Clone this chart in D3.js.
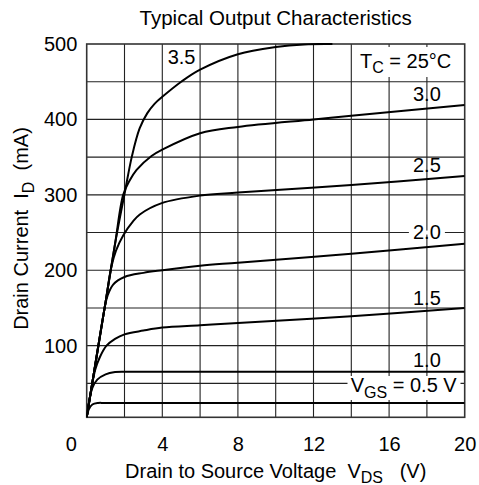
<!DOCTYPE html>
<html>
<head>
<meta charset="utf-8">
<script src="https://cdn.jsdelivr.net/npm/d3@7"></script>
<style>
  body { margin: 0; background: #fff; }
  text { font-family: "Liberation Sans", Arial, sans-serif; fill: #000; }
</style>
</head>
<body>
<svg id="chart" width="479" height="485"></svg>
<script>
// drain current (mA) vs drain-source voltage (V), one array per gate voltage
var vgs_labels = ['0.5', '1.0', '1.5', '2.0', '2.5', '3.0', '3.5'];

var curve_05 = [[0,5],[0.1,15],[0.3,22],[0.6,24],[1.0,24],[20,24]];
var curve_10 = [[0,5],[0.12,25],[0.3,44],[0.56,55],[1.0,62],[1.5,65],[2.0,65.5],[3.0,65.5],[20,65.5]];
var curve_15 = [[0,5],[0.25,43],[0.45,68],[0.7,85],[1.05,100],[1.5,109],[2.0,115],[3.0,120],
                [4,124],[6,127],[8,130],[14,139],[20,150]];
var curve_20 = [[0,5],[0.5,82],[0.95,150],[1.1,166],[1.4,181],[2.0,191],[3.0,196.5],
                [4,200],[6,206],[8,210],[14,222],[20,235]];
var curve_25 = [[0,5],[0.5,82],[1.0,158],[1.3,204],[1.55,226],[1.93,246],[2.46,265],
                [2.81,274],[3.97,289],[6,299],[8,303],[14,313],[20,325]];
var curve_30 = [[0,5],[0.5,82],[1.0,158],[1.5,235],[1.93,300],[2.25,318],[2.64,333],
                [3.43,351.5],[3.97,359.5],[6,381.6],[8,390],[12,400],[14,405],[20,419]];
var curve_35 = [[0,5],[0.5,82],[1.0,158],[1.5,235],[2.0,301],[2.4,352],[2.8,388],[3.2,408],
                [3.6,421],[4,430],[5,450],[6,466],[8,486.5],[10,496],[11.5,499.5],[13,500]];

var all_curves = [curve_05, curve_10, curve_15, curve_20, curve_25, curve_30, curve_35];

var x_ticks = [0, 4, 8, 12, 16, 20];
var y_ticks = [100, 200, 300, 400, 500];
var x_grid = [2, 4, 6, 8, 10, 12, 14, 16, 18];
var y_grid = [50, 100, 150, 200, 250, 300, 350, 400, 450];

var svg = d3.select('#chart');

var px_left = 86.7, px_right = 464.7, px_top = 44, px_bottom = 417.3;

var x = d3.scaleLinear().domain([0, 20]).range([px_left, px_right]);
var y = d3.scaleLinear().domain([5, 500]).range([px_bottom, px_top]);

// grid
svg.append('g').selectAll('line')
   .data(x_grid)
   .enter().append('line')
   .attr('x1', function(d){ return x(d); })
   .attr('x2', function(d){ return x(d); })
   .attr('y1', px_top).attr('y2', px_bottom)
   .style('stroke', '#222').style('stroke-width', 1.1);

svg.append('g').selectAll('line')
   .data(y_grid)
   .enter().append('line')
   .attr('y1', function(d){ return y(d); })
   .attr('y2', function(d){ return y(d); })
   .attr('x1', px_left).attr('x2', px_right)
   .style('stroke', '#222').style('stroke-width', 1.1);

svg.append('rect')
   .attr('x', px_left).attr('y', px_top)
   .attr('width', px_right - px_left).attr('height', px_bottom - px_top)
   .style('fill', 'none')
   .style('stroke', '#333')
   .style('stroke-width', 1.6);

// curves
svg.append('clipPath').attr('id', 'plot-clip')
   .append('rect')
   .attr('x', px_left).attr('y', px_top - 1)
   .attr('width', px_right - px_left).attr('height', px_bottom - px_top + 1);

var line = d3.line()
   .x(function(d){ return x(d[0]); })
   .y(function(d){ return y(d[1]); })
   .curve(d3.curveCatmullRom.alpha(0.5));

svg.append('g')
   .attr('clip-path', 'url(#plot-clip)')
   .selectAll('path')
   .data(all_curves)
   .enter().append('path')
   .attr('d', line)
   .style('fill', 'none')
   .style('stroke', '#000')
   .style('stroke-width', 2);

// axes
var xAxis = svg.append('g')
   .attr('transform', 'translate(0,' + px_bottom + ')')
   .call(d3.axisBottom(x).tickValues(x_ticks).tickSize(0).tickPadding(19.5).tickFormat(d3.format('d')));
xAxis.select('.domain').remove();
xAxis.selectAll('text').style('font-size', '20px')
     .attr('dx', function(d){ return d === 0 ? -16 : 0; });

var yAxis = svg.append('g')
   .attr('transform', 'translate(' + px_left + ',0)')
   .call(d3.axisLeft(y).tickValues(y_ticks).tickSize(0).tickPadding(9.4));
yAxis.select('.domain').remove();
yAxis.selectAll('text').style('font-size', '20px');

// titles
svg.append('text')
   .attr('x', (px_left + px_right) / 2).attr('y', 25)
   .attr('text-anchor', 'middle')
   .style('font-size', '20.5px')
   .text('Typical Output Characteristics');

var xt = svg.append('text')
   .attr('x', (px_left + px_right) / 2).attr('y', 478)
   .attr('text-anchor', 'middle')
   .style('font-size', '20px');
xt.append('tspan').text('Drain to Source Voltage\u00a0\u00a0V');
xt.append('tspan').attr('dy', 4.5).style('font-size', '16px').text('DS');
xt.append('tspan').attr('dy', -4.5).text('\u00a0\u00a0\u00a0(V)');

var yt = svg.append('text')
   .attr('transform', 'translate(28,228.5) rotate(-90)')
   .attr('text-anchor', 'middle')
   .style('font-size', '20px');
yt.append('tspan').text('Drain Current\u00a0\u00a0I');
yt.append('tspan').attr('dy', 6).style('font-size', '16px').text('D');
yt.append('tspan').attr('dy', -6).text('\u00a0\u00a0(mA)');

// curve labels
var label_pos = [
  {t: vgs_labels[1], v: 18, i: 65.5, dy: -5},
  {t: vgs_labels[2], v: 18, i: 146, dy: -6},
  {t: vgs_labels[3], v: 18, i: 231, dy: -8},
  {t: vgs_labels[4], v: 18, i: 321, dy: -7},
  {t: vgs_labels[5], v: 18, i: 415, dy: -7}
];

// the 2.0 label breaks the 250 mA grid line
var bb_w = 36;
svg.append('rect')
   .attr('x', x(18) - bb_w / 2).attr('y', y(250) - 2)
   .attr('width', bb_w).attr('height', 4)
   .style('fill', '#fff');

svg.append('g').selectAll('text')
   .data(label_pos)
   .enter().append('text')
   .attr('x', function(d){ return x(d.v); })
   .attr('y', function(d){ return y(d.i) + d.dy; })
   .attr('text-anchor', 'middle')
   .style('font-size', '20px')
   .text(function(d){ return d.t; });

svg.append('text')
   .attr('x', 167.7).attr('y', 64.3)
   .style('font-size', '20px')
   .text(vgs_labels[6]);

// V_GS = 0.5 V with white box
svg.append('rect')
   .attr('x', 347.5).attr('y', 376).attr('width', 113).attr('height', 24)
   .style('fill', '#fff');
var vg = svg.append('text')
   .attr('x', 350.7).attr('y', 391.7)
   .style('font-size', '20px');
vg.append('tspan').text('V');
vg.append('tspan').attr('dy', 6).style('font-size', '16px').text('GS');
vg.append('tspan').attr('dy', -6).text(' = ' + vgs_labels[0] + ' V');

// T_C = 25°C with white box
svg.append('rect')
   .attr('x', 357).attr('y', 47).attr('width', 103).attr('height', 30)
   .style('fill', '#fff');
var tc = svg.append('text')
   .attr('x', 360).attr('y', 68.3)
   .style('font-size', '20px');
tc.append('tspan').text('T');
tc.append('tspan').attr('dy', 5).style('font-size', '16px').text('C');
tc.append('tspan').attr('dy', -5).text(' = 25\u00b0C');
</script>
</body>
</html>
